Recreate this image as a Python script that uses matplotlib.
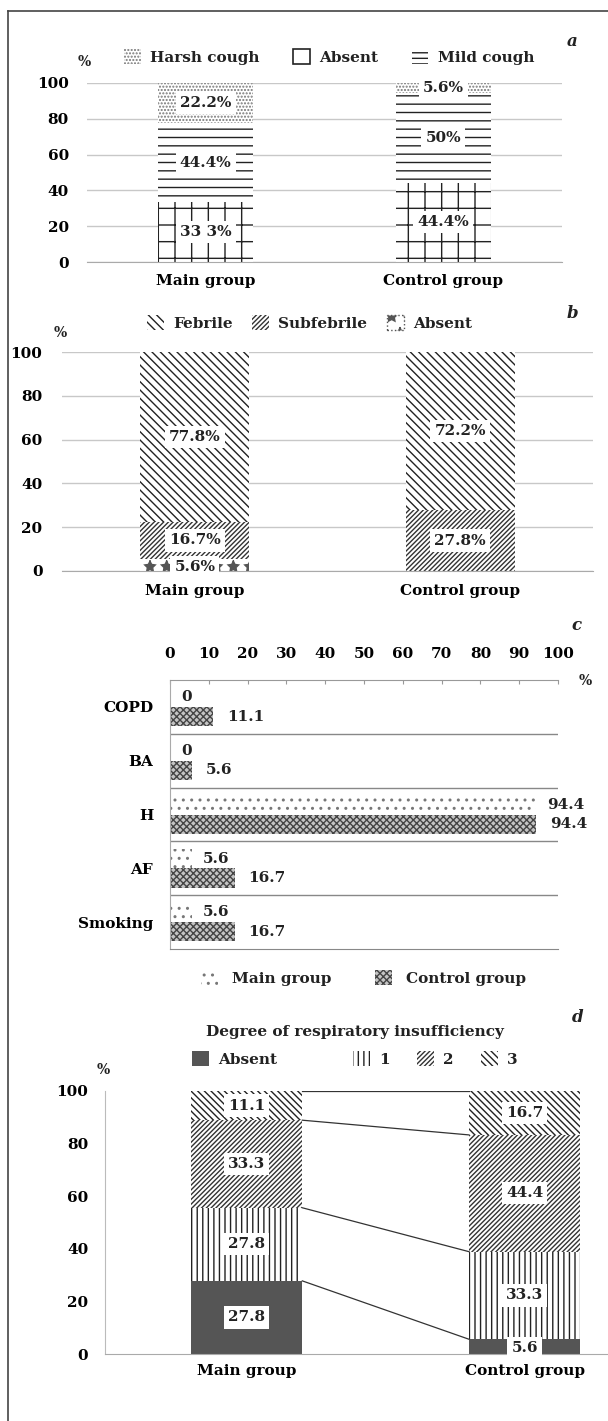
import numpy as np
import matplotlib
matplotlib.use('Agg')
import matplotlib.pyplot as plt
from matplotlib.lines import Line2D
from matplotlib.patches import Patch

# ---- data ----
groups = ['Main group', 'Control group']

# a: cough
cough_absent = [33.3, 44.4]
cough_mild = [44.4, 50.0]
cough_harsh = [22.2, 5.6]
cough_absent_lbl = ['33 3%', '44.4%']
cough_mild_lbl = ['44.4%', '50%']
cough_harsh_lbl = ['22.2%', '5.6%']

# b: fever
fever_absent = [5.6, 0.0]
fever_sub = [16.7, 27.8]
fever_feb = [77.8, 72.2]

# c: comorbidity
conditions = ['COPD', 'BA', 'H', 'AF', 'Smoking']
cond_main = [0, 0, 94.4, 5.6, 5.6]
cond_control = [11.1, 5.6, 94.4, 16.7, 16.7]

# d: respiratory insufficiency
resp_absent = [27.8, 5.6]
resp_1 = [27.8, 33.3]
resp_2 = [33.3, 44.4]
resp_3 = [11.1, 16.7]

W, H = 608, 1421
INK = '#222222'
GRID = '#c8c8c8'

plt.rcParams['font.family'] = ['DejaVu Serif']
plt.rcParams['font.weight'] = 'bold'
plt.rcParams['font.size'] = 11
plt.rcParams['text.color'] = INK
plt.rcParams['hatch.linewidth'] = 1.0

fig = plt.figure(figsize=(W / 100, H / 100), dpi=100)


def px_axes(x0, y0, x1, y1):
    return fig.add_axes([x0 / W, 1 - y1 / H, (x1 - x0) / W, (y1 - y0) / H])


def fx(x):
    return x / W


def fy(y):
    return 1 - y / H


def label_box(ax, x, y, s):
    ax.text(x, y, s, ha='center', va='center', fontsize=11, fontweight='bold',
            bbox=dict(facecolor='white', edgecolor='none', pad=3))


def style_vertical(ax, pad):
    ax.set_ylim(0, 100)
    ax.set_yticks(range(0, 101, 20))
    ax.tick_params(axis='y', length=0, pad=pad, labelsize=11)
    ax.tick_params(axis='x', length=0, pad=9, labelsize=11)
    for s in ['top', 'right', 'left']:
        ax.spines[s].set_visible(False)
    ax.spines['bottom'].set_color('#aaaaaa')


leg_kw = dict(frameon=False, borderpad=0, borderaxespad=0, handlelength=1.1,
              handleheight=1.1, handletextpad=0.6, fontsize=11, loc='center left')

# outer frame
fig.add_artist(Line2D([fx(8), fx(8)], [fy(11), 0], color='#444444', lw=1.2))
fig.add_artist(Line2D([fx(8), 1], [fy(11), fy(11)], color='#444444', lw=1.2))

x = np.arange(len(groups))

# ---------------- a ----------------
ax = px_axes(87, 83, 562, 262)
bw = 0.4
b1 = ax.bar(x, cough_absent, bw, facecolor='white', edgecolor=INK, hatch='+', lw=0)
b2 = ax.bar(x, cough_mild, bw, bottom=cough_absent, facecolor='white', edgecolor=INK,
            hatch='--', lw=0)
bot = np.add(cough_absent, cough_mild)
b3 = ax.bar(x, cough_harsh, bw, bottom=bot, facecolor='white', edgecolor='#777777',
            hatch='.....', lw=0)
for i in x:
    label_box(ax, i, cough_absent[i] / 2, cough_absent_lbl[i])
    label_box(ax, i, cough_absent[i] + cough_mild[i] / 2, cough_mild_lbl[i])
    label_box(ax, i, bot[i] + cough_harsh[i] / 2, cough_harsh_lbl[i])
ax.set_xlim(-0.5, 1.5)
ax.set_xticks(x, groups)
style_vertical(ax, 13)
ax.yaxis.grid(True, color=GRID, lw=1)
ax.set_axisbelow(True)
absent_box = Patch(facecolor='white', edgecolor=INK, lw=1.2)
mild_box = Patch(facecolor='white', edgecolor=INK, hatch='---', lw=0)
fig.legend([b3, absent_box, mild_box], ['Harsh cough', 'Absent', 'Mild cough'], ncol=3,
           bbox_to_anchor=(fx(124), fy(57)), columnspacing=2.2, **leg_kw)
fig.text(fx(84), fy(62), '%', ha='center', va='center', fontsize=10)
fig.text(fx(572), fy(42), 'a', ha='center', va='center', fontsize=12, style='italic')

# ---------------- b ----------------
ax = px_axes(62, 352, 593, 571)
bw = 0.41
c1 = ax.bar(x, fever_absent, bw, facecolor='white', edgecolor='#555555', hatch='*', lw=0)
c2 = ax.bar(x, fever_sub, bw, bottom=fever_absent, facecolor='white', edgecolor='#333333',
            hatch='///////', lw=0)
bot = np.add(fever_absent, fever_sub)
c3 = ax.bar(x, fever_feb, bw, bottom=bot, facecolor='white', edgecolor=INK,
            hatch='\\\\\\\\', lw=0)
for i in x:
    if fever_absent[i] > 0:
        label_box(ax, i, fever_absent[i] / 2 - 1, f'{fever_absent[i]:g}%')
    label_box(ax, i, fever_absent[i] + fever_sub[i] / 2, f'{fever_sub[i]:g}%')
    label_box(ax, i, bot[i] + fever_feb[i] / 2, f'{fever_feb[i]:g}%')
ax.set_xlim(-0.5, 1.5)
ax.set_xticks(x, groups)
style_vertical(ax, 14)
ax.yaxis.grid(True, color=GRID, lw=1)
ax.set_axisbelow(True)
absent_dot = Patch(facecolor='white', edgecolor='#555555', hatch='*', lw=1, ls=':')
fig.legend([c3, c2, absent_dot], ['Febrile', 'Subfebrile', 'Absent'], ncol=3,
           bbox_to_anchor=(fx(147), fy(323)), columnspacing=1.3, **leg_kw)
fig.text(fx(60), fy(333), '%', ha='center', va='center', fontsize=10)
fig.text(fx(572), fy(313), 'b', ha='center', va='center', fontsize=12, style='italic')

# ---------------- c ----------------
ax = px_axes(170, 680, 558, 949)
y = np.arange(len(conditions))
bh = 0.36
d1 = ax.barh(y - 0.18, cond_main, bh, facecolor='white', edgecolor='#777777',
             hatch='..', lw=0)
d2 = ax.barh(y + 0.18, cond_control, bh, facecolor='#c4c4c4', edgecolor='#444444',
             hatch='xxxxx', lw=0)
ax.bar_label(d1, fmt='%g', padding=8, fontsize=11, fontweight='bold')
ax.bar_label(d2, fmt='%g', padding=10, fontsize=11, fontweight='bold')
ax.set_xlim(0, 100)
ax.set_ylim(len(conditions) - 0.5, -0.5)
ax.set_yticks(y, conditions)
ax.xaxis.tick_top()
ax.set_xticks(range(0, 101, 10))
ax.tick_params(axis='x', direction='in', length=3, color='#999999', pad=14, labelsize=11)
ax.tick_params(axis='y', length=0, pad=12, labelsize=11)
for k in range(len(conditions) - 1):
    ax.axhline(k + 0.5, color='#888888', lw=1)
ax.spines['right'].set_visible(False)
ax.spines['top'].set_color('#999999')
ax.spines['left'].set_color('#aaaaaa')
ax.spines['bottom'].set_color('#888888')
fig.legend([d1, d2], ['Main group', 'Control group'], ncol=2,
           bbox_to_anchor=(fx(201), fy(978)), columnspacing=2.9,
           **{**leg_kw, 'handletextpad': 0.9})
fig.text(fx(585), fy(681), '%', ha='center', va='center', fontsize=10)
fig.text(fx(576), fy(625), 'c', ha='center', va='center', fontsize=12, style='italic')

# ---------------- d ----------------
ax = px_axes(105, 1091, 608, 1354)
bw = 0.4
e0 = ax.bar(x, resp_absent, bw, facecolor='#555555', edgecolor='#555555', lw=0)
cum = np.array(resp_absent, dtype=float)
e1 = ax.bar(x, resp_1, bw, bottom=cum, facecolor='white', edgecolor=INK, hatch='|||', lw=0)
cum2 = cum + resp_1
e2 = ax.bar(x, resp_2, bw, bottom=cum2, facecolor='white', edgecolor='#333333',
            hatch='///////', lw=0)
cum3 = cum2 + resp_2
e3 = ax.bar(x, resp_3, bw, bottom=cum3, facecolor='white', edgecolor=INK,
            hatch='\\\\\\\\\\', lw=0)
cum4 = cum3 + resp_3
for lvl in [cum, cum2, cum3, cum4]:
    ax.plot([bw / 2, 1 - bw / 2], [lvl[0], lvl[1]], color='#333333', lw=0.9)
for i in x:
    label_box(ax, i, resp_absent[i] / 2 if i == 0 else resp_absent[i] / 2 - 0.5,
              f'{resp_absent[i]:g}')
    label_box(ax, i, cum[i] + resp_1[i] / 2, f'{resp_1[i]:g}')
    label_box(ax, i, cum2[i] + resp_2[i] / 2, f'{resp_2[i]:g}')
    label_box(ax, i, cum3[i] + resp_3[i] / 2, f'{resp_3[i]:g}')
ax.set_xlim(-0.51, 1.30)
ax.set_xticks(x, groups)
ax.set_ylim(0, 100)
ax.set_yticks(range(0, 101, 20))
ax.tick_params(axis='y', length=0, pad=12, labelsize=11)
ax.tick_params(axis='x', length=0, pad=7, labelsize=11)
ax.spines['top'].set_visible(False)
ax.spines['right'].set_visible(False)
ax.spines['left'].set_color('#bbbbbb')
ax.spines['bottom'].set_color('#aaaaaa')
fig.text(fx(355), fy(1032), 'Degree of respiratory insufficiency', ha='center',
         va='center', fontsize=11)
fig.legend([e0], ['Absent'], bbox_to_anchor=(fx(192), fy(1059)), **leg_kw)
fig.legend([e1, e2, e3], ['1', '2', '3'], ncol=3,
           bbox_to_anchor=(fx(353), fy(1059)), columnspacing=1.8, **leg_kw)
fig.text(fx(103), fy(1070), '%', ha='center', va='center', fontsize=10)
fig.text(fx(578), fy(1018), 'd', ha='center', va='center', fontsize=12, style='italic')

fig.savefig('out.png', dpi=100, facecolor='white')
